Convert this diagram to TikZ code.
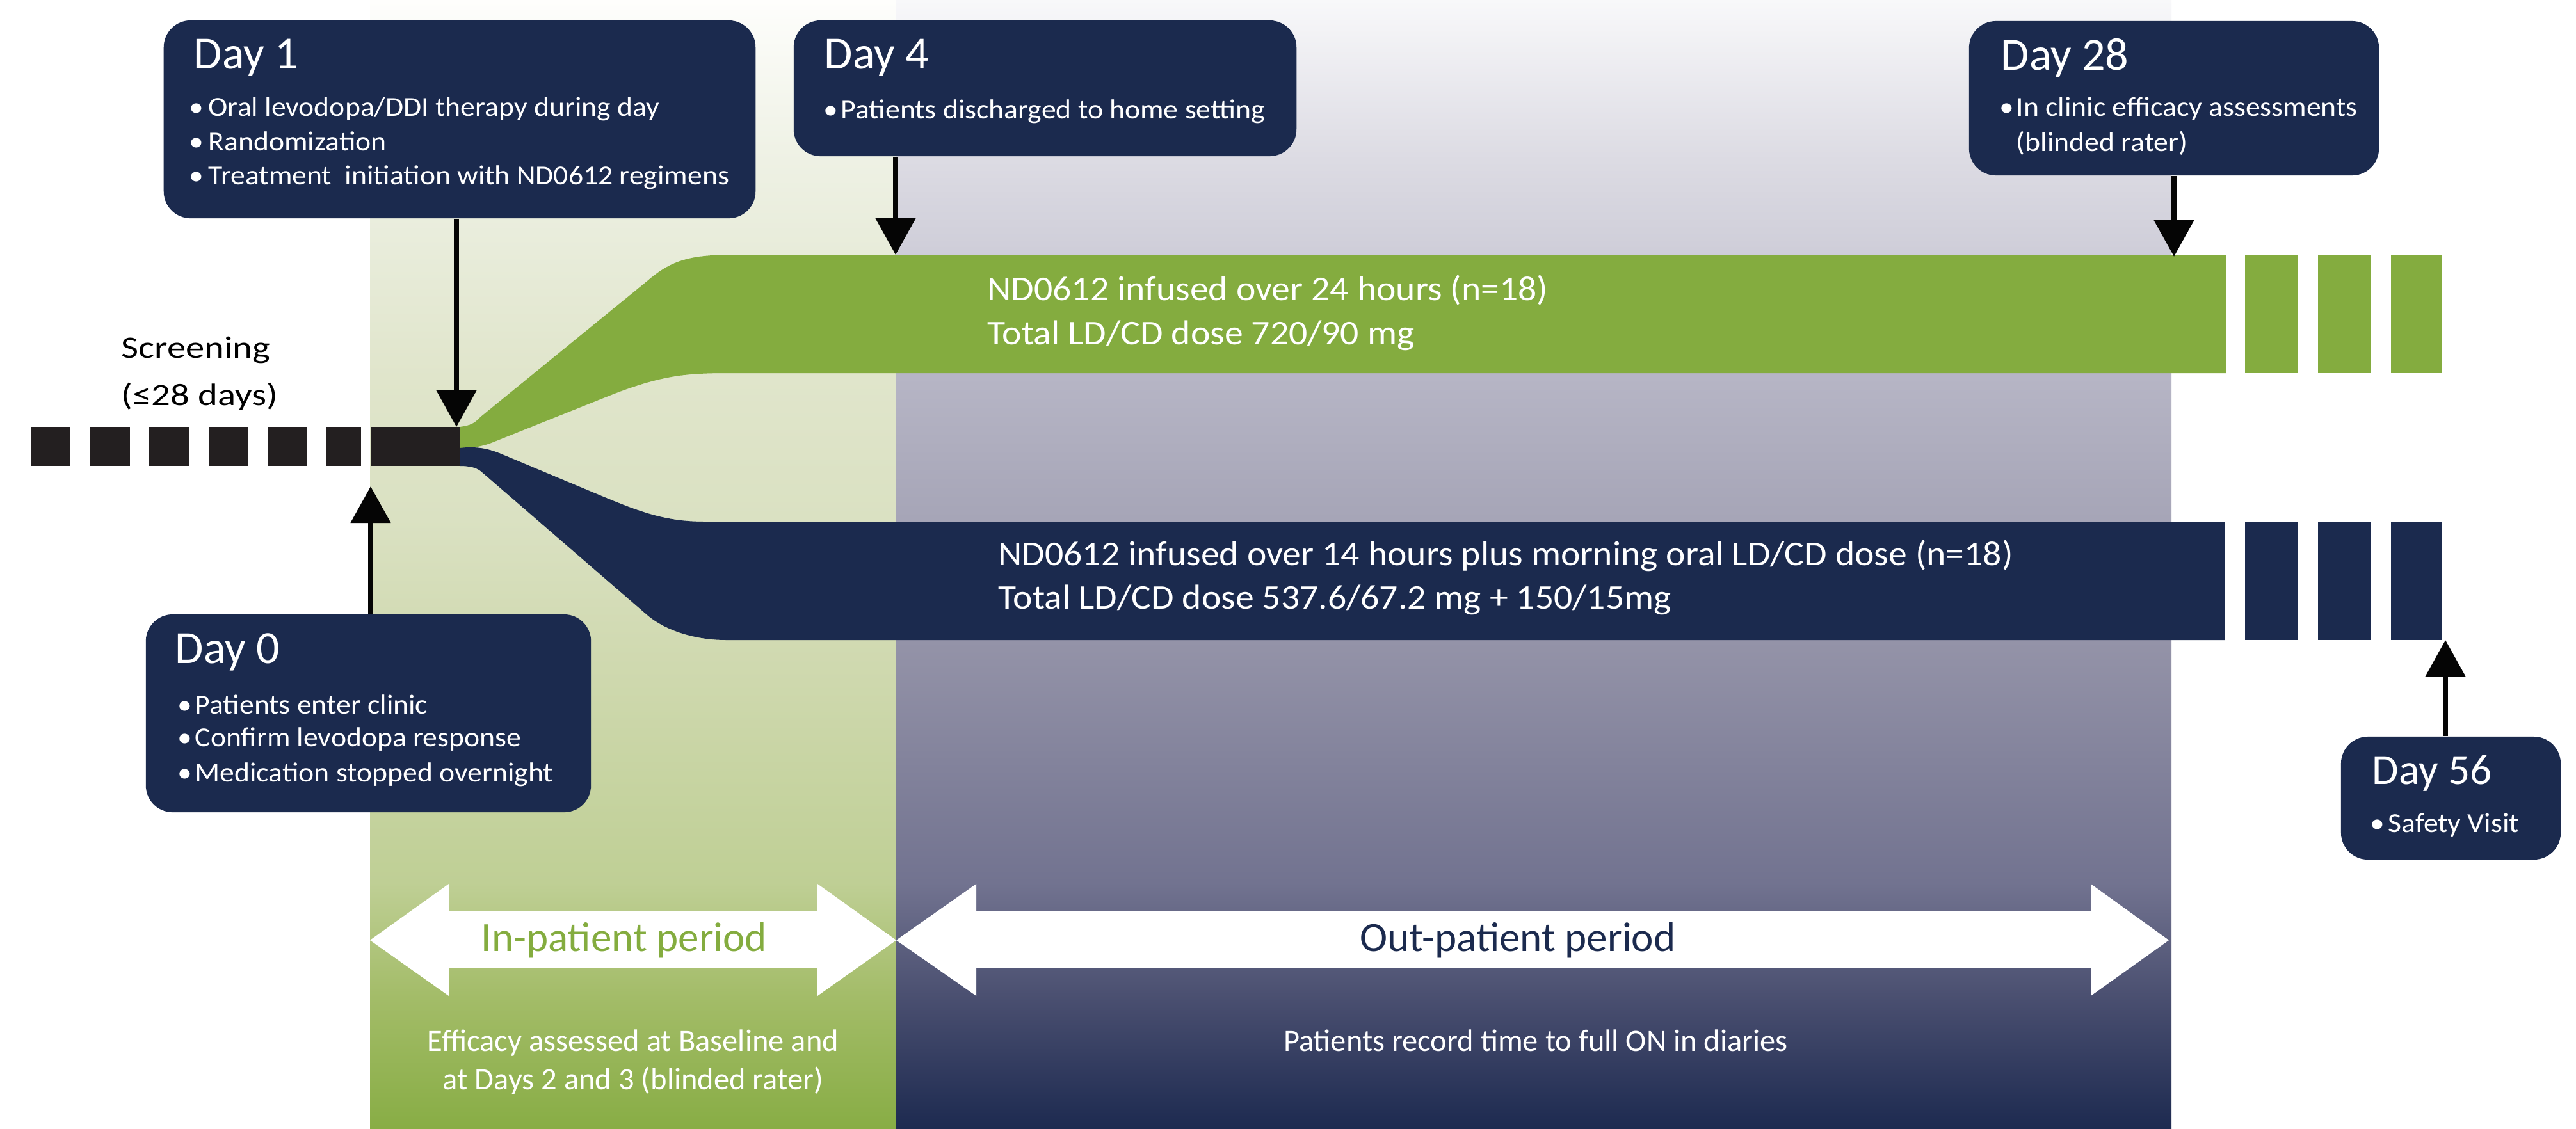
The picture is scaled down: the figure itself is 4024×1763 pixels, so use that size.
\documentclass[tikz,border=0pt]{standalone}
\usepackage{fontspec}
\setmainfont{Carlito}
\newfontfamily\wideA{Carlito}[FakeStretch=1.065]
\newfontfamily\wideB{Carlito}[FakeStretch=1.21]
\usetikzlibrary{arrows.meta}
\definecolor{navy}{HTML}{1B2A4E}
\definecolor{lgreen}{HTML}{84AC3F}
\definecolor{barblack}{HTML}{231F20}
\definecolor{arrblack}{HTML}{050505}
\definecolor{ga}{HTML}{88AD45}
\definecolor{gb}{HTML}{A3BC68}
\definecolor{gc}{HTML}{BFCF95}
\definecolor{gd}{HTML}{D1DAB2}
\definecolor{ge}{HTML}{DAE1C2}
\definecolor{gf}{HTML}{E0E5CB}
\definecolor{gg}{HTML}{E8ECDA}
\definecolor{gh}{HTML}{EEF1E4}
\definecolor{gi}{HTML}{FEFEFC}
\definecolor{na}{HTML}{1D2A50}
\definecolor{nb}{HTML}{4A4F70}
\definecolor{nc}{HTML}{727390}
\definecolor{nd}{HTML}{9493A8}
\definecolor{ne}{HTML}{A6A5B7}
\definecolor{nf}{HTML}{B6B5C5}
\definecolor{ng}{HTML}{CFCED9}
\definecolor{nh}{HTML}{DCDBE3}
\definecolor{ni}{HTML}{F8F8FA}
\pgfdeclareverticalshading{gshade}{100bp}{color(0bp)=(ga); color(25bp)=(ga); color(30.8bp)=(gb); color(35.9bp)=(gc); color(46.6bp)=(gd); color(52bp)=(ge); color(58.3bp)=(gf); color(63.9bp)=(gg); color(67.9bp)=(gh); color(75bp)=(gi); color(100bp)=(gi)}
\pgfdeclareverticalshading{nshade}{100bp}{color(0bp)=(na); color(25bp)=(na); color(30.8bp)=(nb); color(35.9bp)=(nc); color(46.6bp)=(nd); color(52bp)=(ne); color(58.3bp)=(nf); color(63.9bp)=(ng); color(67.9bp)=(nh); color(75bp)=(ni); color(100bp)=(ni)}
\begin{document}
\begin{tikzpicture}[x=0.01cm,y=-0.01cm,
  box/.style={fill=navy, rounded corners=0.42cm, inner sep=0, draw=none},
  arr/.style={draw=arrblack, line width=0.08cm, -{Triangle[width=0.61cm,length=0.57cm]}},
  ttl/.style={font=\fontsize{20.5}{24}\selectfont, text=white, inner sep=0, anchor=base west},
  bul/.style={font=\wideA\fontsize{12.2}{14}\selectfont, text=white, inner sep=0, anchor=base west},
  band/.style={font=\wideA\fontsize{15.4}{18}\selectfont, text=white, inner sep=0, anchor=base west},
  scr/.style={font=\wideB\fontsize{13.8}{16}\selectfont, text=black, inner sep=0, anchor=base west},
  per/.style={font=\fontsize{18.5}{22}\selectfont, inner sep=0, anchor=base},
  low/.style={font=\fontsize{13.8}{16}\selectfont, text=white, inner sep=0, anchor=base}]
\useasboundingbox (0,0) rectangle (4024,1763);
\fill[white] (0,0) rectangle (4024,1763);
% background periods
\shade[shading=gshade] (578,0) rectangle (1399,1763);
\shade[shading=nshade] (1399,0) rectangle (3392,1763);
% treatment bands
\fill[lgreen] (718,667) .. controls (735,665) and (742,661) .. (750,652) -- (1010,440) .. controls (1050,405) and (1080,398) .. (1150,398) -- (3477,398) -- (3477,583) -- (1150,583) .. controls (1080,583) and (1040,583) .. (950,619) -- (770,691) .. controls (755,697) and (740,700) .. (718,701) -- cycle;
\fill[navy] (718,700) .. controls (745,697) and (762,701) .. (780,708) -- (940,775) .. controls (1000,800) and (1040,815) .. (1100,815) -- (3475,815) -- (3475,1000) -- (1135,1000) .. controls (1080,1000) and (1035,982) .. (1010,960) -- (752,737) .. controls (745,731) and (735,728) .. (718,728) -- cycle;
\foreach \a/\b in {3507/3590,3621/3704,3735/3814}{
  \fill[lgreen] (\a,398) rectangle (\b,583);
  \fill[navy] (\a,815) rectangle (\b,1000);
}
% screening dashes
\foreach \a in {48,141,233,326,418}{\fill[barblack] (\a,667) rectangle ++(62,61);}
\fill[barblack] (510,667) rectangle (564,728);
\fill[barblack] (579,667) rectangle (718,728);
% period arrows
\fill[white] (578,1469) -- (701,1381) -- (701,1424) -- (1277,1424) -- (1277,1381) -- (1400,1469) -- (1277,1556) -- (1277,1512) -- (701,1512) -- (701,1556) -- cycle;
\fill[white] (1400,1469) -- (1525,1381) -- (1525,1424) -- (3266,1424) -- (3266,1381) -- (3388,1469) -- (3266,1556) -- (3266,1512) -- (1525,1512) -- (1525,1556) -- cycle;
% boxes
\node[box, minimum width=9.24cm, minimum height=3.09cm] (d1) at (718,186.5) {};
\node[box, minimum width=7.85cm, minimum height=2.12cm] (d4) at (1632.5,138) {};
\node[box, minimum width=6.40cm, minimum height=2.41cm] (d28) at (3396,153.5) {};
\node[box, minimum width=6.95cm, minimum height=3.09cm] (d0) at (575.5,1114.5) {};
\node[box, minimum width=3.43cm, minimum height=1.92cm] (d56) at (3828.5,1247) {};
% arrows
\coordinate (t1) at (713,667);
\coordinate (t4) at (1399,398);
\coordinate (t28) at (3396,401);
\coordinate (t0) at (579,760);
\coordinate (t56) at (3820,1000);
\draw[arr] (d1.south -| t1) -- (t1);
\draw[arr] (d4.south -| t4) -- (t4);
\draw[arr] (d28.south -| t28) -- (t28);
\draw[arr] (d0.north -| t0) -- (t0);
\draw[arr] (d56.north -| t56) -- (t56);
% box texts
\node[ttl] (d1t) at (302,107) {Day 1};
\node[bul] (d1a) at (295,181) {\makebox[0.30cm][l]{•}Oral levodopa/DDI therapy during day};
\node[bul] (d1b) at (295,235) {\makebox[0.30cm][l]{•}Randomization};
\node[bul] (d1c) at (295,288) {\makebox[0.30cm][l]{•}Treatment\ \ initiation with ND0612 regimens};
\node[ttl] (d4t) at (1287,107) {Day 4};
\node[bul] (d4a) at (1286,185) {\makebox[0.27cm][l]{•}Patients discharged to home setting};
\node[ttl] (d28t) at (3125,109) {Day 28};
\node[bul] (d28a) at (3123,181) {\makebox[0.26cm][l]{•}In clinic efficacy assessments};
\node[bul] (d28b) at (3149,236) {(blinded rater)};
\node[ttl] (d0t) at (273,1036) {Day 0};
\node[bul] (d0a) at (277,1115) {\makebox[0.27cm][l]{•}Patients enter clinic};
\node[bul] (d0b) at (277,1166) {\makebox[0.27cm][l]{•}Confirm levodopa response};
\node[bul] (d0c) at (277,1221) {\makebox[0.27cm][l]{•}Medication stopped overnight};
\node[ttl, font=\fontsize{19.2}{23}\selectfont] (d56t) at (3705,1225) {Day 56};
\node[bul] (d56a) at (3702,1300) {\makebox[0.28cm][l]{•}Safety Visit};
% band texts
\node[band] (g1) at (1542,469) {ND0612 infused over 24 hours (n=18)};
\node[band] (g2) at (1542,538) {Total LD/CD dose 720/90 mg};
\node[band] (n1) at (1559,883) {ND0612 infused over 14 hours plus morning oral LD/CD dose (n=18)};
\node[band] (n2) at (1559,951) {Total LD/CD dose 537.6/67.2 mg + 150/15mg};
% screening
\node[scr] (s1) at (189,559) {Screening};
\node[scr] (s2) at (189,633) {(≤28 days)};
% periods
\node[per, text=lgreen] (ip) at (975,1486) {In-patient period};
\node[per, text=navy] (op) at (2371,1486) {Out-patient period};
\node[low] (e1) at (989,1642) {Efficacy assessed at Baseline and};
\node[low] (e2) at (989,1702) {at Days 2 and 3 (blinded rater)};
\node[low] (pr) at (2399,1642) {Patients record time to full ON in diaries};
\end{tikzpicture}
\end{document}
